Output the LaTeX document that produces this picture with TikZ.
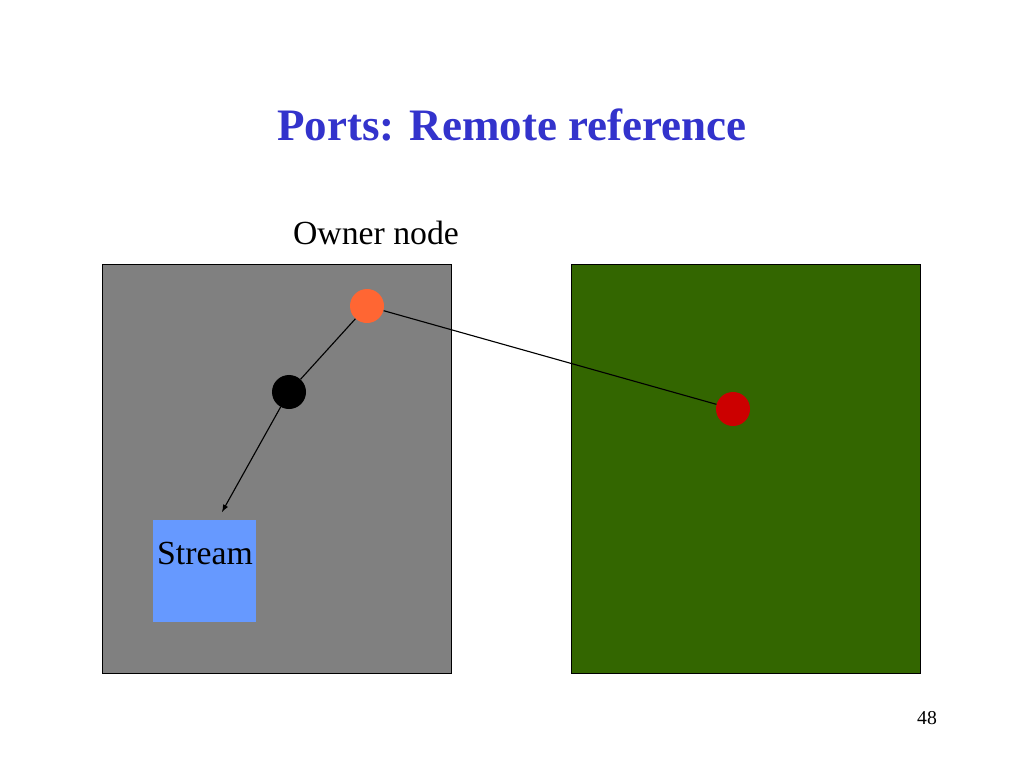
\documentclass[tikz,border=0pt]{standalone}
\usepackage{fontspec}
\setmainfont{Liberation Serif}
\usepackage{tikz}
\usetikzlibrary{arrows,positioning,calc}
\definecolor{titreBleu}{HTML}{3333CC}
\definecolor{gris}{HTML}{808080}
\definecolor{vert}{HTML}{336600}
\definecolor{bleuFlux}{HTML}{6699FF}
\definecolor{orange}{HTML}{FF6633}
\definecolor{rouge}{HTML}{CC0000}
\begin{document}
\begin{tikzpicture}[x=0.025cm,y=-0.025cm]
\tikzstyle{fleche}=[->,>=latex,line width=0.8pt]
\tikzstyle{lien}=[line width=0.8pt]
\tikzstyle{machine}=[draw=black,line width=0.7pt,rectangle,minimum width=8.7cm,minimum height=10.2cm,inner sep=0pt]
\tikzstyle{port}=[circle,minimum size=0.85cm,inner sep=0pt]
\def\TailleTexte{\fontsize{24}{28}\selectfont}
\useasboundingbox[fill=white] (0,0) rectangle (1024,768);
\node[font=\fontsize{32}{38}\selectfont\bfseries,text=titreBleu] (titre) at (512,125) {Ports: Remote reference};
\node[font=\TailleTexte] (proprio) at (376,233) {Owner node};
\node[machine,fill=gris] (A) at (277,469) {};
\node[machine,fill=vert] (B) at (746,469) {};
\node[fill=bleuFlux,minimum width=2.575cm,minimum height=2.55cm,inner sep=0pt] (flux) at (204.5,571) {};
\node[font=\TailleTexte,inner sep=0pt] (fluxtxt) at (205,553) {Stream};
\node[port,fill=orange] (Po) at (367,306) {};
\node[port,fill=black] (Pn) at (289,392) {};
\node[port,fill=rouge] (Pr) at (733,409) {};
\coordinate (bout) at (222,512);
\node[font=\fontsize{14}{16}\selectfont] (num) at (927,718) {48};
\draw[lien] (Po)--(Pn);
\draw[fleche] (Pn)--(bout);
\draw[lien] (Po)--(Pr);
\end{tikzpicture}
\end{document}
